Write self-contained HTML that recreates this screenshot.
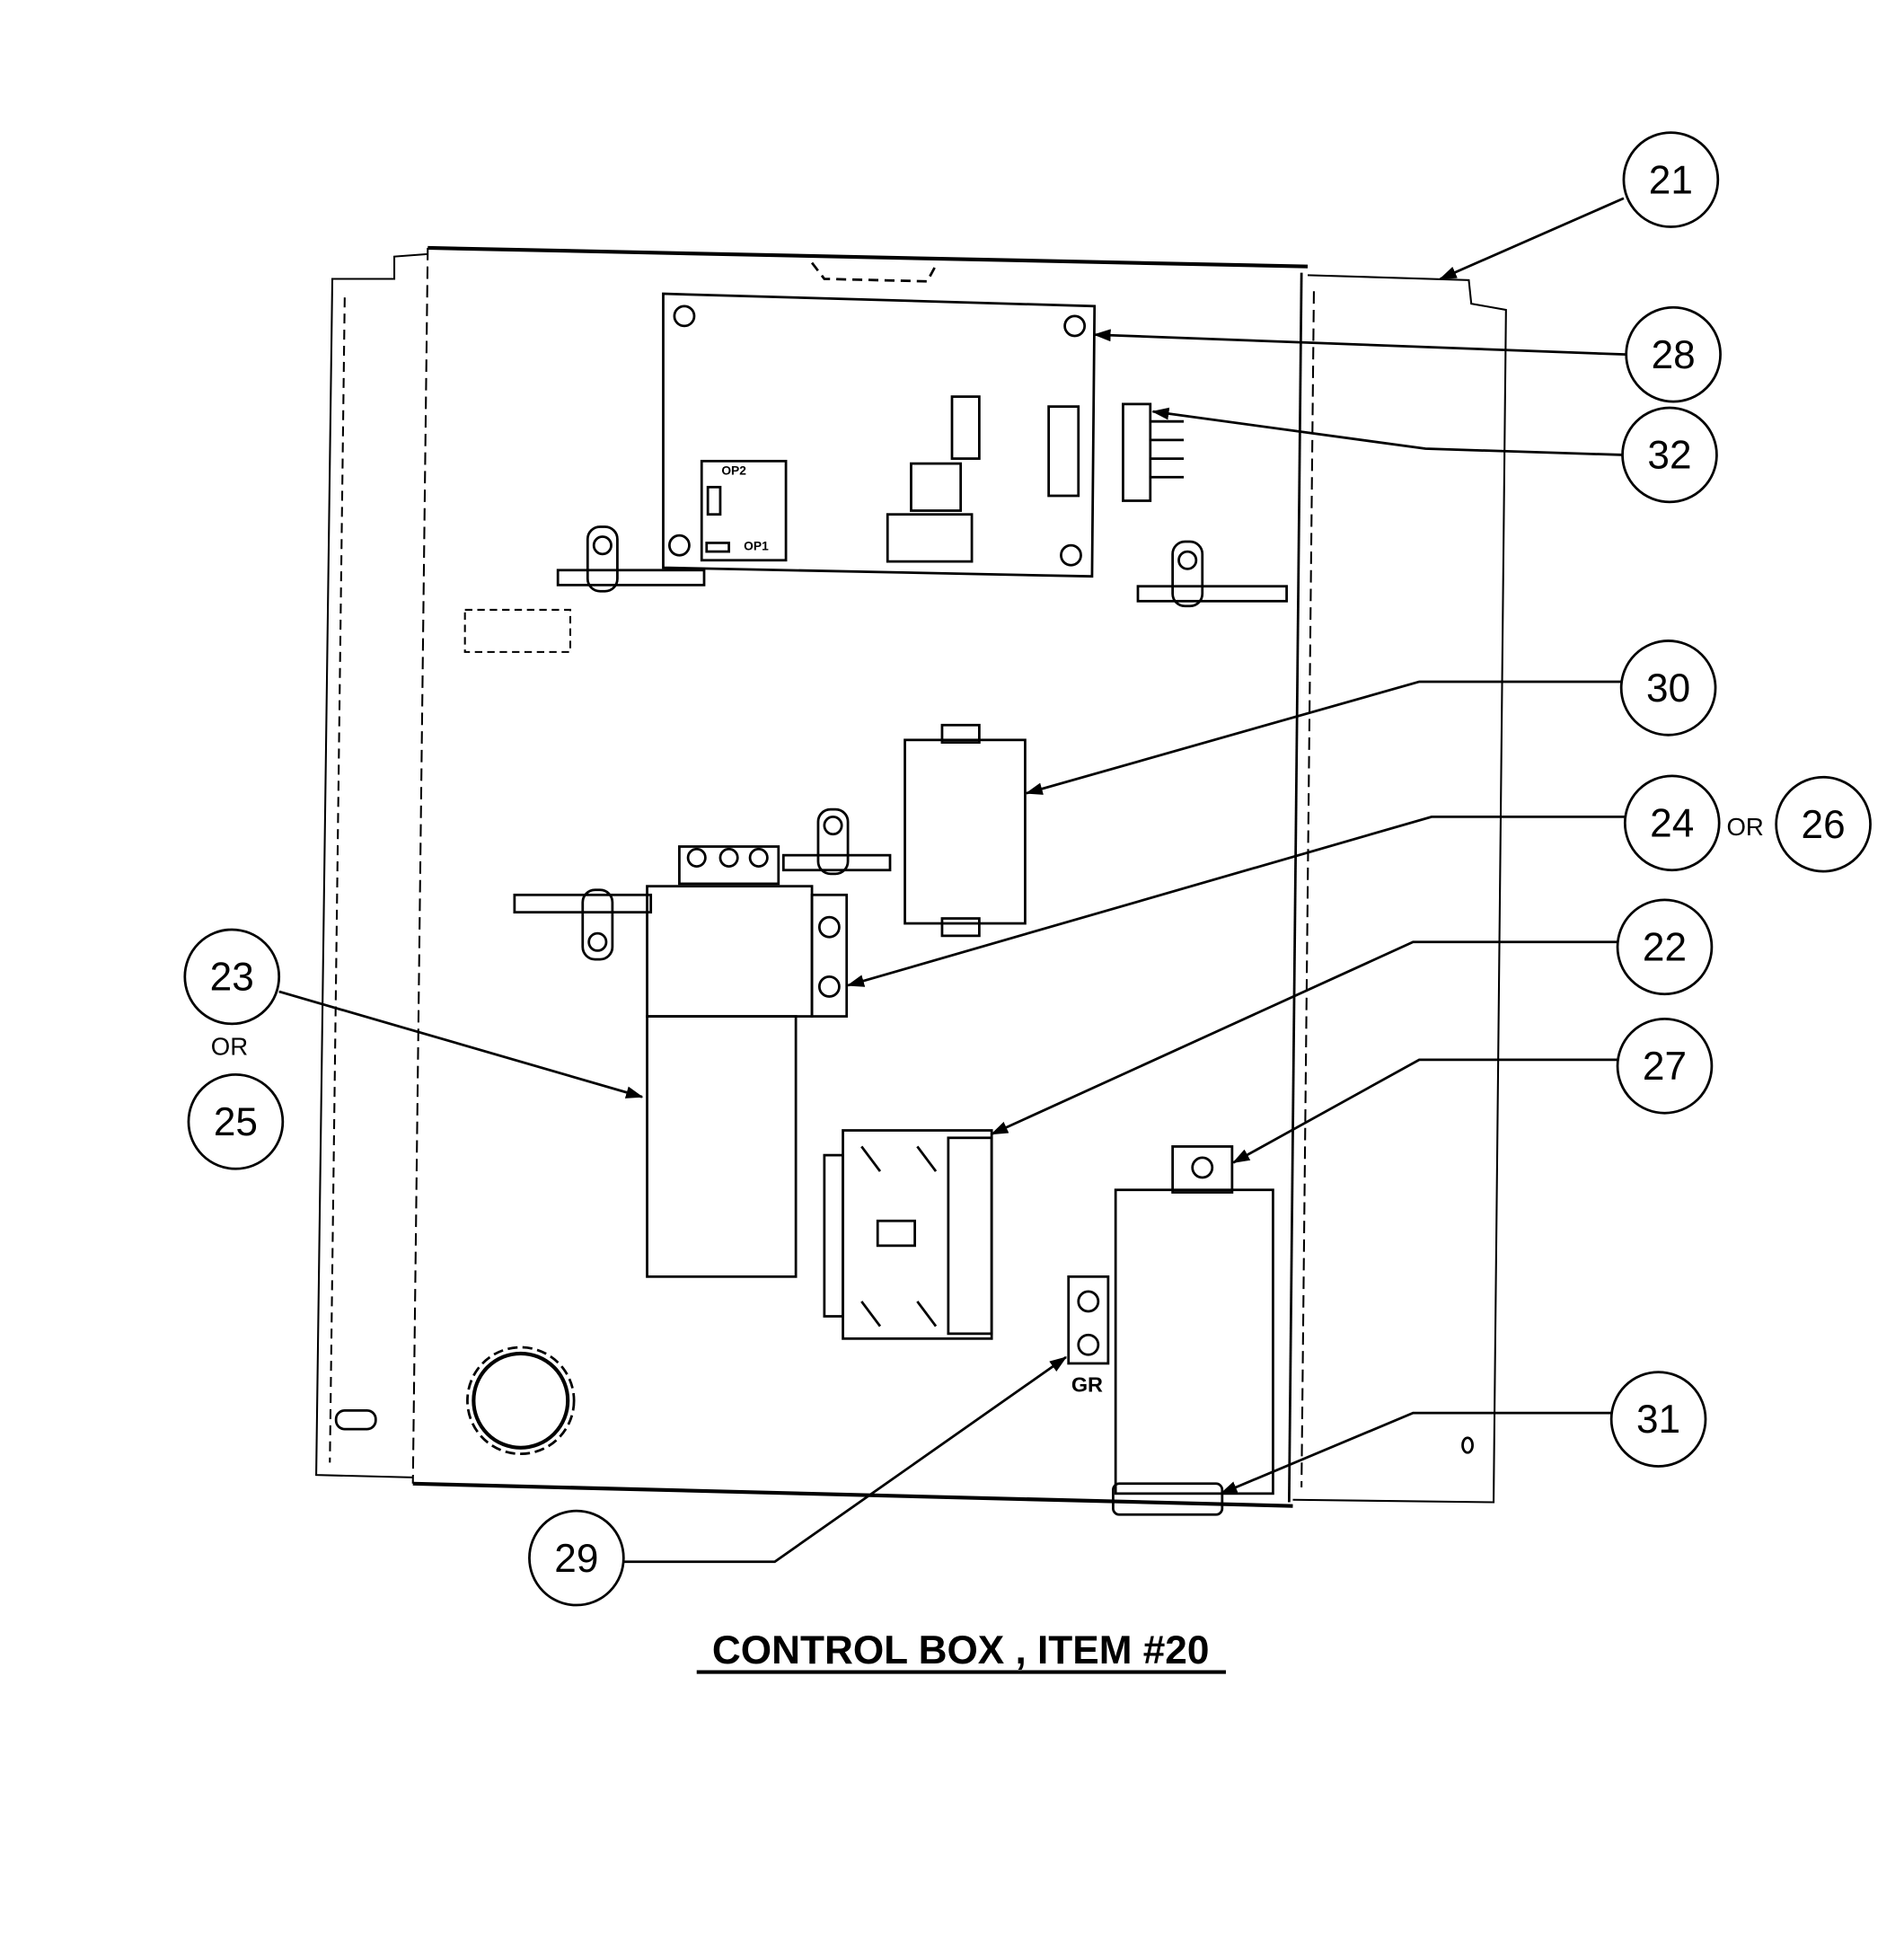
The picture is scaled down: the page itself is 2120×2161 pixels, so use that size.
<!DOCTYPE html>
<html><head><meta charset="utf-8"><style>
html,body{margin:0;padding:0;background:#fff;}
svg{display:block;}
text{font-family:"Liberation Sans",sans-serif;fill:#000;}
</style></head><body>
<svg width="2120" height="2161" viewBox="0 0 1536 1566" xmlns="http://www.w3.org/2000/svg">
<defs><marker id="a" markerWidth="14" markerHeight="10" refX="13" refY="5" orient="auto" markerUnits="userSpaceOnUse"><path d="M0,0 L14,5 L0,10 Z" fill="#000"/></marker></defs>
<g fill="none" stroke="#000" stroke-width="2">
<!-- left flange -->
<polyline points="345,205 318,207 318,225 268,225 255,1190 333,1192" stroke-width="1.5"/>
<line x1="278" y1="240" x2="266" y2="1180" stroke-dasharray="8,5" stroke-width="1.5"/>
<rect x="271" y="1138" width="32" height="15" rx="7"/>
<!-- main panel -->
<line x1="345" y1="200" x2="1055" y2="215" stroke-width="3"/>
<line x1="333" y1="1197" x2="1043" y2="1215" stroke-width="3"/>
<line x1="345" y1="200" x2="333" y2="1197" stroke-dasharray="10,5" stroke-width="1.5"/>
<line x1="1050" y1="220" x2="1040" y2="1212" stroke-width="2"/>
<!-- right flange -->
<polyline points="1055,222 1185,226 1187,245 1215,250 1205,1212 1043,1210" stroke-width="1.5"/>
<line x1="1060" y1="235" x2="1050" y2="1200" stroke-dasharray="10,5" stroke-width="1.5"/>
<ellipse cx="1184" cy="1166" rx="4" ry="6"/>
<path d="M655,212 L665,225 L748,227 L755,214" stroke-dasharray="8,5"/>
<!-- PCB -->
<polygon points="535,237 883,247 881,465 535,458"/>
<circle cx="552" cy="255" r="8"/><circle cx="867" cy="263" r="8"/>
<circle cx="548" cy="440" r="8"/><circle cx="864" cy="448" r="8"/>
<rect x="566" y="372" width="68" height="80"/>
<rect x="571" y="393" width="10" height="22"/>
<rect x="570" y="438" width="18" height="7"/>
<rect x="768" y="320" width="22" height="50"/>
<rect x="735" y="374" width="40" height="38"/>
<rect x="716" y="415" width="68" height="38"/>
<rect x="846" y="328" width="24" height="72"/>
<rect x="906" y="326" width="22" height="78"/>
<line x1="928" y1="340" x2="955" y2="340"/><line x1="928" y1="355" x2="955" y2="355"/><line x1="928" y1="370" x2="955" y2="370"/><line x1="928" y1="385" x2="955" y2="385"/>
<!-- brackets -->
<rect x="474" y="425" width="24" height="52" rx="10"/><circle cx="486" cy="440" r="7"/>
<rect x="450" y="460" width="118" height="12"/>
<rect x="946" y="437" width="24" height="52" rx="10"/><circle cx="958" cy="452" r="7"/>
<rect x="918" y="473" width="120" height="12"/>
<rect x="660" y="653" width="24" height="52" rx="10"/><circle cx="672" cy="666" r="7"/>
<rect x="632" y="690" width="86" height="12"/>
<rect x="470" y="718" width="24" height="56" rx="10"/><circle cx="482" cy="760" r="7"/>
<rect x="415" y="722" width="110" height="14"/>
<rect x="375" y="492" width="85" height="34" stroke-dasharray="6,4" stroke-width="1.5"/>
<!-- 30 relay -->
<rect x="730" y="597" width="97" height="148"/>
<rect x="760" y="585" width="30" height="14"/><rect x="760" y="741" width="30" height="14"/>
<!-- 24/23 transformer -->
<rect x="522" y="715" width="133" height="105"/>
<rect x="522" y="820" width="120" height="210"/>
<rect x="655" y="722" width="28" height="98"/>
<circle cx="669" cy="748" r="8"/><circle cx="669" cy="796" r="8"/>
<rect x="548" y="683" width="80" height="30"/>
<circle cx="562" cy="692" r="7"/><circle cx="588" cy="692" r="7"/><circle cx="612" cy="692" r="7"/>
<!-- 22 contactor -->
<rect x="680" y="912" width="120" height="168"/>
<rect x="665" y="932" width="15" height="130"/>
<rect x="765" y="918" width="35" height="158"/>
<rect x="708" y="985" width="30" height="20"/>
<line x1="695" y1="925" x2="710" y2="945"/><line x1="740" y1="925" x2="755" y2="945"/>
<line x1="695" y1="1050" x2="710" y2="1070"/><line x1="740" y1="1050" x2="755" y2="1070"/>
<!-- 29 GR -->
<rect x="862" y="1030" width="32" height="70"/>
<circle cx="878" cy="1050" r="8"/><circle cx="878" cy="1085" r="8"/>
<!-- 27 capacitor -->
<rect x="900" y="960" width="127" height="245"/>
<rect x="946" y="925" width="48" height="37"/><circle cx="970" cy="942" r="8"/>
<rect x="898" y="1197" width="88" height="25" rx="5"/>
<!-- knockout -->
<circle cx="420" cy="1130" r="43" stroke-dasharray="8,4"/>
<circle cx="420" cy="1130" r="38" stroke-width="3"/>
<!-- callout circles -->
<circle cx="1348" cy="145" r="38"/><circle cx="1350" cy="286" r="38"/>
<circle cx="1347" cy="367" r="38"/><circle cx="1346" cy="555" r="38"/>
<circle cx="1349" cy="664" r="38"/><circle cx="1471" cy="665" r="38"/>
<circle cx="1343" cy="764" r="38"/><circle cx="1343" cy="860" r="38"/>
<circle cx="1338" cy="1145" r="38"/><circle cx="187" cy="788" r="38"/>
<circle cx="190" cy="905" r="38"/><circle cx="465" cy="1257" r="38"/>
<!-- leaders -->
<g marker-end="url(#a)">
<polyline points="1310,160 1162,225"/>
<polyline points="1312,286 883,270"/>
<polyline points="1309,367 1150,362 930,332"/>
<polyline points="1308,550 1145,550 828,640"/>
<polyline points="1311,659 1155,659 684,795"/>
<polyline points="1305,760 1140,760 800,915"/>
<polyline points="1305,855 1145,855 995,938"/>
<polyline points="1300,1140 1140,1140 985,1205"/>
<polyline points="225,800 518,885"/>
<polyline points="503,1260 625,1260 860,1095"/>
</g>
</g>
<g font-size="32" text-anchor="middle">
<text x="1348" y="156">21</text><text x="1350" y="297">28</text>
<text x="1347" y="378">32</text><text x="1346" y="566">30</text>
<text x="1349" y="675">24</text><text x="1471" y="676">26</text>
<text x="1343" y="775">22</text><text x="1343" y="871">27</text>
<text x="1338" y="1156">31</text><text x="187" y="799">23</text>
<text x="190" y="916">25</text><text x="465" y="1268">29</text>
</g>
<text x="1408" y="674" font-size="20" text-anchor="middle">OR</text>
<text x="185" y="851" font-size="20" text-anchor="middle">OR</text>
<text x="877" y="1123" font-size="17" font-weight="bold" text-anchor="middle">GR</text>
<text x="582" y="383" font-size="10" font-weight="bold">OP2</text>
<text x="600" y="444" font-size="10" font-weight="bold">OP1</text>
<text x="775" y="1342" font-size="32" font-weight="bold" text-anchor="middle">CONTROL BOX , ITEM #20</text>
<line x1="562" y1="1349" x2="989" y2="1349" stroke="#000" stroke-width="3"/>
</svg>
</body></html>
